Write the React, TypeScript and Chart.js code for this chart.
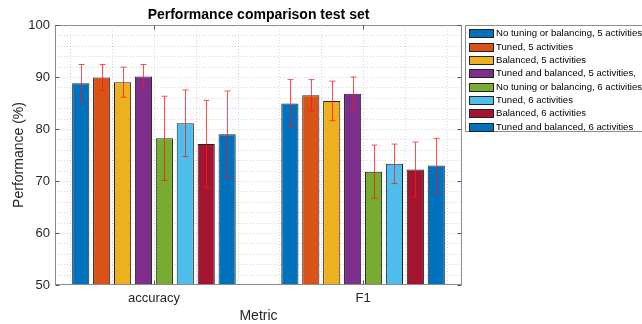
import React, { useEffect, useRef } from "react";
import { Chart, registerables } from "chart.js";

Chart.register(...registerables);

const categories = ["accuracy", "F1"];
const seriesNames = [
  "No tuning or balancing, 5 activities",
  "Tuned, 5 activities",
  "Balanced, 5 activities",
  "Tuned and balanced, 5 activities,",
  "No tuning or balancing, 6 activities",
  "Tuned, 6 activities",
  "Balanced, 6 activities",
  "Tuned and balanced, 6 activities",
];
const seriesColors = ["#0072BD", "#D95319", "#EDB120", "#7E2F8E", "#77AC30", "#4DBEEE", "#A2142F", "#0072BD"];
// values per series: [accuracy, F1]
const noTune5 = [88.8, 84.9];
const tuned5 = [89.9, 86.5];
const balanced5 = [89.0, 85.4];
const tunedBal5 = [90.1, 86.8];
const noTune6 = [78.2, 71.8];
const tuned6 = [81.1, 73.3];
const balanced6 = [77.1, 72.2];
const tunedBal6 = [79.0, 73.0];
const seriesValues = [noTune5, tuned5, balanced5, tunedBal5, noTune6, tuned6, balanced6, tunedBal6];
// error (± std) per series: [accuracy, F1]
const errNoTune5 = [3.6, 4.6];
const errTuned5 = [2.5, 3.0];
const errBalanced5 = [2.9, 3.8];
const errTunedBal5 = [2.3, 3.2];
const errNoTune6 = [8.1, 5.1];
const errTuned6 = [6.4, 3.8];
const errBalanced6 = [8.4, 5.3];
const errTunedBal6 = [8.3, 5.2];
const seriesErrors = [errNoTune5, errTuned5, errBalanced5, errTunedBal5, errNoTune6, errTuned6, errBalanced6, errTunedBal6];
const yTickLabels = [50, 60, 70, 80, 90, 100];

const FONT = "'Liberation Sans', Arial, Helvetica, sans-serif";
const TEXT = "#262626";

const overlay = {
  id: "matlabOverlay",
  beforeDatasetsDraw(chart: any) {
    const { ctx, chartArea: a, scales } = chart;
    const xs = scales.x, ys = scales.y;
    ctx.save();
    ctx.strokeStyle = "rgba(0,0,0,0.16)";
    ctx.lineWidth = 1;
    ctx.setLineDash([1, 2]);
    for (let v = 52; v < 100; v += 2) {
      const y = Math.round(ys.getPixelForValue(v)) + 0.5;
      ctx.beginPath(); ctx.moveTo(a.left, y); ctx.lineTo(a.right, y); ctx.stroke();
    }
    for (let k = 3; k <= 12; k++) {
      const x = Math.round(xs.getPixelForValue(k * 0.2)) + 0.5;
      ctx.beginPath(); ctx.moveTo(x, a.top); ctx.lineTo(x, a.bottom); ctx.stroke();
    }
    ctx.restore();
  },
  afterDatasetsDraw(chart: any) {
    const { ctx, chartArea: a, scales } = chart;
    const ys = scales.y;
    ctx.save();
    // error bars
    ctx.strokeStyle = "rgba(255,20,20,0.75)";
    ctx.lineWidth = 1;
    seriesErrors.forEach((errs, di) => {
      const meta = chart.getDatasetMeta(di);
      meta.data.forEach((bar: any, i: number) => {
        const v = seriesValues[di][i];
        const e = errs[i];
        const x = Math.round(bar.x) + 0.5;
        const yt = ys.getPixelForValue(v + e);
        const yb = ys.getPixelForValue(v - e);
        ctx.beginPath();
        ctx.moveTo(x, yt); ctx.lineTo(x, yb);
        ctx.moveTo(x - 3, yt); ctx.lineTo(x + 3, yt);
        ctx.moveTo(x - 3, yb); ctx.lineTo(x + 3, yb);
        ctx.stroke();
      });
    });
    // axes box
    ctx.strokeStyle = "#8c8c8c";
    ctx.lineWidth = 1;
    const L = Math.round(a.left) + 0.5, R = Math.round(a.right) - 0.5;
    const T = Math.round(a.top) + 0.5, B = Math.round(a.bottom) - 0.5;
    ctx.strokeRect(L, T, R - L, B - T);
    // tick marks
    ctx.strokeStyle = "#555";
    yTickLabels.forEach((v) => {
      const y = Math.round(ys.getPixelForValue(v)) + 0.5;
      ctx.beginPath(); ctx.moveTo(L, y); ctx.lineTo(L + 4, y); ctx.moveTo(R, y); ctx.lineTo(R - 4, y); ctx.stroke();
    });
    [1, 2].forEach((v) => {
      const x = Math.round(scales.x.getPixelForValue(v)) + 0.5;
      ctx.beginPath(); ctx.moveTo(x, T); ctx.lineTo(x, T + 4); ctx.moveTo(x, B); ctx.lineTo(x, B - 4); ctx.stroke();
    });
    // title
    const cx = (a.left + a.right) / 2;
    ctx.fillStyle = "#000";
    ctx.font = `bold 14px ${FONT}`;
    ctx.textAlign = "center";
    ctx.textBaseline = "middle";
    ctx.fillText("Performance comparison test set", cx, 15);
    // axis titles
    ctx.fillStyle = TEXT;
    ctx.font = `14px ${FONT}`;
    ctx.fillText("Metric", cx, 316);
    ctx.save();
    ctx.translate(19, (a.top + a.bottom) / 2);
    ctx.rotate(-Math.PI / 2);
    ctx.fillText("Performance (%)", 0, 0);
    ctx.restore();
    // legend
    const lx = 465.5, ly = 25.5, lw = 200, lh = 106;
    ctx.fillStyle = "#fff";
    ctx.fillRect(lx, ly, lw, lh);
    ctx.strokeStyle = "#8c8c8c";
    ctx.strokeRect(lx, ly, lw, lh);
    ctx.font = `9.6px ${FONT}`;
    ctx.textAlign = "left";
    seriesNames.forEach((name, i) => {
      const yc = 33.3 + i * 13.33;
      ctx.fillStyle = seriesColors[i];
      ctx.fillRect(469.5, Math.round(yc - 4) + 0.5, 24, 8);
      ctx.strokeStyle = "#222";
      ctx.strokeRect(469.5, Math.round(yc - 4) + 0.5, 24, 8);
      ctx.fillStyle = "#000";
      ctx.fillText(name, 496, yc + 0.5);
    });
    ctx.restore();
  },
};

export default function App() {
  const ref = useRef<HTMLCanvasElement>(null);
  useEffect(() => {
    document.body.style.margin = "0";
    const datasets = seriesNames.map((name, i) => ({
      label: name,
      data: seriesValues[i].map((v, k) => ({ x: k + 1, y: v })),
      backgroundColor: seriesColors[i],
      borderColor: "#222",
      borderWidth: 1,
      categoryPercentage: 0.8,
      barPercentage: 0.82,
    }));
    const chart = new Chart(ref.current!, {
      type: "bar",
      data: { datasets },
      plugins: [overlay],
      options: {
        responsive: false,
        animation: false,
        layout: { padding: { left: 0, top: 25, right: 180, bottom: 0 } },
        plugins: { legend: { display: false }, tooltip: { enabled: false }, title: { display: false } },
        scales: {
          x: {
            type: "linear",
            min: 0.527,
            max: 2.473,
            offset: false,
            grid: { display: false, drawTicks: false },
            border: { display: false },
            afterBuildTicks: (axis: any) => { axis.ticks = [{ value: 1 }, { value: 2 }]; },
            afterFit: (axis: any) => { axis.height = 39; },
            ticks: {
              padding: 6,
              color: TEXT,
              font: { family: FONT, size: 13 },
              maxRotation: 0,
              callback: (v: any) => categories[Math.round(Number(v)) - 1] ?? "",
            },
          },
          y: {
            min: 50,
            max: 100,
            grid: { display: false, drawTicks: false },
            border: { display: false },
            afterBuildTicks: (axis: any) => { axis.ticks = yTickLabels.map((v) => ({ value: v })); },
            afterFit: (axis: any) => { axis.width = 55; },
            ticks: {
              padding: 5,
              color: TEXT,
              font: { family: FONT, size: 13 },
              callback: (v: any) => String(v),
            },
          },
        },
      },
    } as any);
    return () => chart.destroy();
  }, []);
  return (
    <div style={{ position: "absolute", left: 0, top: 0, width: 642, height: 324, background: "#fff" }}>
      <canvas ref={ref} width={642} height={324} style={{ width: 642, height: 324 }} />
    </div>
  );
}
